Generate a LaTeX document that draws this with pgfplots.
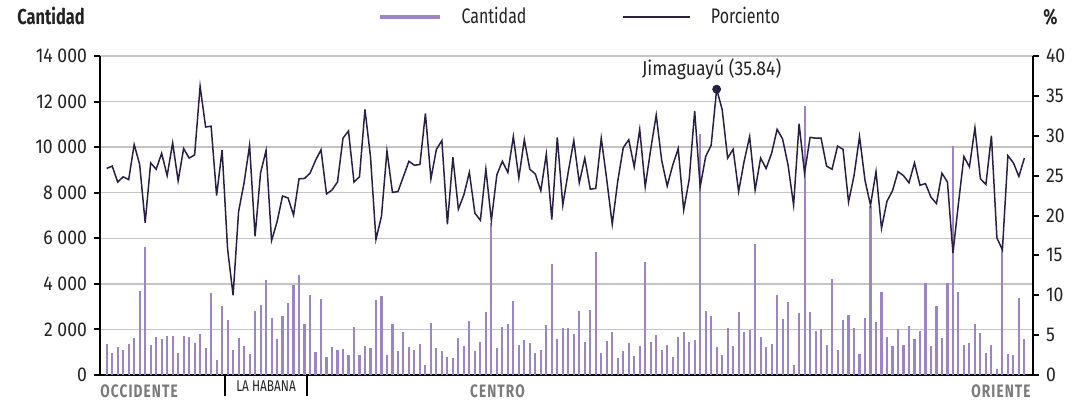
\documentclass[border=0pt]{standalone}
\usepackage{fontspec}
\setmainfont[FakeStretch=0.88]{Fira Sans}
\newfontfamily\estrecha[FakeStretch=0.76]{Fira Sans}
\newfontfamily\espaciada[FakeStretch=0.76, LetterSpace=6]{Fira Sans}
\usepackage{pgfplots}
\usepackage{pgfplotstable}
\pgfplotsset{compat=1.18}
\definecolor{barra}{HTML}{9C84C5}
\definecolor{linea}{HTML}{2A1E45}
\definecolor{rejilla}{HTML}{C4C4C4}
\definecolor{region}{HTML}{7A7A7A}
\definecolor{texto}{HTML}{222222}

\pgfplotsset{
  muestra/.style={legend image code/.code={\draw[##1] (0pt,0pt) -- (#1,0pt);}},
}
\tikzset{fuente/.style={font=\fontsize{10}{12}\selectfont, text=texto}}

% i = municipio, c = cantidad, p = porciento
\pgfplotstableread{
i c p
0 1360 25.9
1 980 26.2
2 1230 24.2
3 1100 24.85
4 1360 24.5
5 1630 28.9
6 3690 26.4
7 5630 19.1
8 1310 26.6
9 1650 25.8
10 1560 27.8
11 1710 25.0
12 1710 29.1
13 950 24.35
14 1730 28.4
15 1650 27.2
16 1400 27.6
17 1800 36.2
18 1180 31.1
19 3580 31.2
20 660 22.5
21 3030 28.2
22 2410 15.8
23 1100 10.0
24 1620 20.5
25 1260 24.1
26 920 28.8
27 2820 17.4
28 3070 25.35
29 4190 28.15
30 2490 16.85
31 1590 19.2
32 2600 22.45
33 3140 22.2
34 3950 20.05
35 4370 24.6
36 2240 24.65
37 3520 25.3
38 1030 26.9
39 3320 28.25
40 800 22.7
41 1230 23.2
42 1100 24.2
43 1130 29.7
44 890 30.6
45 2110 24.2
46 880 24.85
47 1270 33.3
48 1190 27.4
49 3290 17.0
50 3450 19.9
51 870 28.1
52 2240 22.9
53 1070 23.0
54 1890 24.9
55 1230 26.8
56 1100 26.3
57 1380 26.4
58 420 32.8
59 2280 24.6
60 1170 28.3
61 1040 29.4
62 790 18.9
63 740 27.3
64 1630 20.8
65 1280 22.6
66 2370 25.4
67 1040 20.3
68 1430 19.4
69 2760 25.8
70 6650 19.4
71 1180 25.1
72 2100 26.8
73 2240 25.4
74 3250 29.9
75 1320 24.7
76 1530 29.5
77 1400 25.8
78 950 25.2
79 1110 23.1
80 2190 27.7
81 4860 19.5
82 1560 29.8
83 2050 21.3
84 2080 25.5
85 1820 29.4
86 2820 24.1
87 1450 27.2
88 2870 23.3
89 5420 23.4
90 950 29.7
91 1480 24.5
92 1870 18.9
93 740 24.3
94 1070 28.5
95 1390 29.5
96 850 26.1
97 1280 30.8
98 4940 23.6
99 1440 28.3
100 1750 32.6
101 1110 26.9
102 1310 23.7
103 790 26.3
104 1680 28.4
105 1870 20.7
106 1430 24.5
107 1550 33.1
108 10560 23.6
109 2810 27.4
110 2590 28.8
111 1230 35.84
112 860 33.3
113 2060 27.2
114 1270 28.3
115 2760 23.0
116 1900 26.8
117 1980 29.9
118 5770 23.2
119 1680 27.2
120 1210 25.9
121 1360 27.8
122 3510 30.8
123 2440 29.6
124 3200 26.3
125 420 21.3
126 2710 31.5
127 11800 25.3
128 2760 29.8
129 1940 29.7
130 2000 29.7
131 1310 26.2
132 4200 25.8
133 1100 28.7
134 2410 28.3
135 2630 21.7
136 2050 25.0
137 930 29.9
138 2500 24.4
139 7400 21.3
140 2340 25.5
141 3650 18.4
142 1650 21.8
143 1270 23.1
144 2030 25.5
145 1320 25.0
146 2140 24.1
147 1560 26.6
148 1930 23.8
149 4030 24.0
150 1270 22.3
151 3050 21.5
152 1620 25.3
153 4040 24.2
154 10050 15.3
155 3650 21.5
156 1330 27.4
157 1410 26.1
158 2250 31.0
159 1850 24.6
160 960 23.9
161 1300 30.0
162 260 17.2
163 5530 15.7
164 920 27.5
165 900 26.6
166 3390 24.9
167 1600 27.2
}\datos

\begin{document}
\begin{tikzpicture}
\path[use as bounding box] (0,0) rectangle (545.5pt,202pt);

\begin{axis}[
  at={(50pt,14.5pt)}, anchor=south west,
  scale only axis, width=466.5pt, height=159.5pt,
  xmin=-1.22, xmax=168.57, ymin=0, ymax=14000,
  axis x line*=bottom, axis y line*=left,
  axis line style={line width=1.3pt, black, -},
  xtick=\empty,
  extra x ticks={21.5,36.5}, extra x tick labels={},
  extra x tick style={major tick length=10.5pt, tick align=outside, tick style={line width=1.1pt, black}},
  ytick={0,2000,4000,6000,8000,10000,12000,14000},
  yticklabels={0,2 000,4 000,6 000,8 000,10 000,12 000,14 000},
  scaled y ticks=false,
  ymajorgrids, grid style={rejilla, line width=0.7pt},
  tick align=outside, major tick length=3pt,
  tick style={line width=1pt, black},
  yticklabel style={fuente},
  clip=false,
]
\addplot[ycomb, barra, line width=1.05pt, mark=none] table[x=i, y=c]{\datos};

\node[anchor=base west, inner sep=0pt, font=\espaciada\bfseries\fontsize{9}{11}\selectfont, text=region]
  at ([xshift=0pt, yshift=-11pt]rel axis cs:0,0) {OCCIDENTE};
\node[anchor=base, inner sep=0pt, font=\estrecha\fontsize{7.8}{9}\selectfont, text=texto]
  at ([yshift=-8.3pt]axis cs:29,0) {LA HABANA};
\node[anchor=base, inner sep=0pt, font=\espaciada\bfseries\fontsize{9}{11}\selectfont, text=region]
  at ([yshift=-11pt]axis cs:71.1,0) {CENTRO};
\node[anchor=base east, inner sep=0pt, font=\espaciada\bfseries\fontsize{9}{11}\selectfont, text=region]
  at ([xshift=-1pt, yshift=-11pt]rel axis cs:1,0) {ORIENTE};
\end{axis}

\begin{axis}[
  at={(50pt,14.5pt)}, anchor=south west,
  scale only axis, width=466.5pt, height=159.5pt,
  xmin=-1.22, xmax=168.57, ymin=0, ymax=40,
  axis x line=none, axis y line*=right,
  axis line style={line width=1.3pt, black, -},
  ytick={0,5,10,15,20,25,30,35,40},
  yticklabels={0,5,10,15,20,25,30,35,40},
  tick align=outside, major tick length=3pt,
  tick style={line width=1pt, black},
  yticklabel style={fuente},
  clip=false,
  legend columns=2,
  legend cell align=left,
  legend style={at={(0.298,1.1223)}, anchor=west, draw=none, fill=none,
    inner sep=0pt, font=\estrecha\fontsize{10.5}{12}\selectfont, text=texto,
    nodes={inner sep=0pt},
    /tikz/every odd column/.append style={column sep=10pt},
    /tikz/every even column/.append style={column sep=48pt},
    /tikz/column 3/.append style={column sep=1.5pt}},
]
\addlegendimage{barra, line width=1.6pt, muestra=30pt}
\addlegendentry{Cantidad}
\addplot[linea, line width=0.75pt, mark=none, muestra=33.5pt] table[x=i, y=p]{\datos};
\addlegendentry{Porciento}
\addplot[only marks, mark=*, mark size=2pt, linea, forget plot] coordinates {(111,35.84)};
\node[anchor=base, inner sep=0pt, fuente] at ([xshift=-2.5pt, yshift=7pt]axis cs:111,35.84) {Jimaguayú (35.84)};
\end{axis}

\node[anchor=base west, inner sep=0pt, font=\estrecha\bfseries\fontsize{10.8}{12}\selectfont, text=texto] at (8.5pt,190pt) {Cantidad};
\node[anchor=base west, inner sep=0pt, font=\estrecha\bfseries\fontsize{10.8}{12}\selectfont, text=texto] at (521.5pt,190pt) {\%};
\end{tikzpicture}
\end{document}
